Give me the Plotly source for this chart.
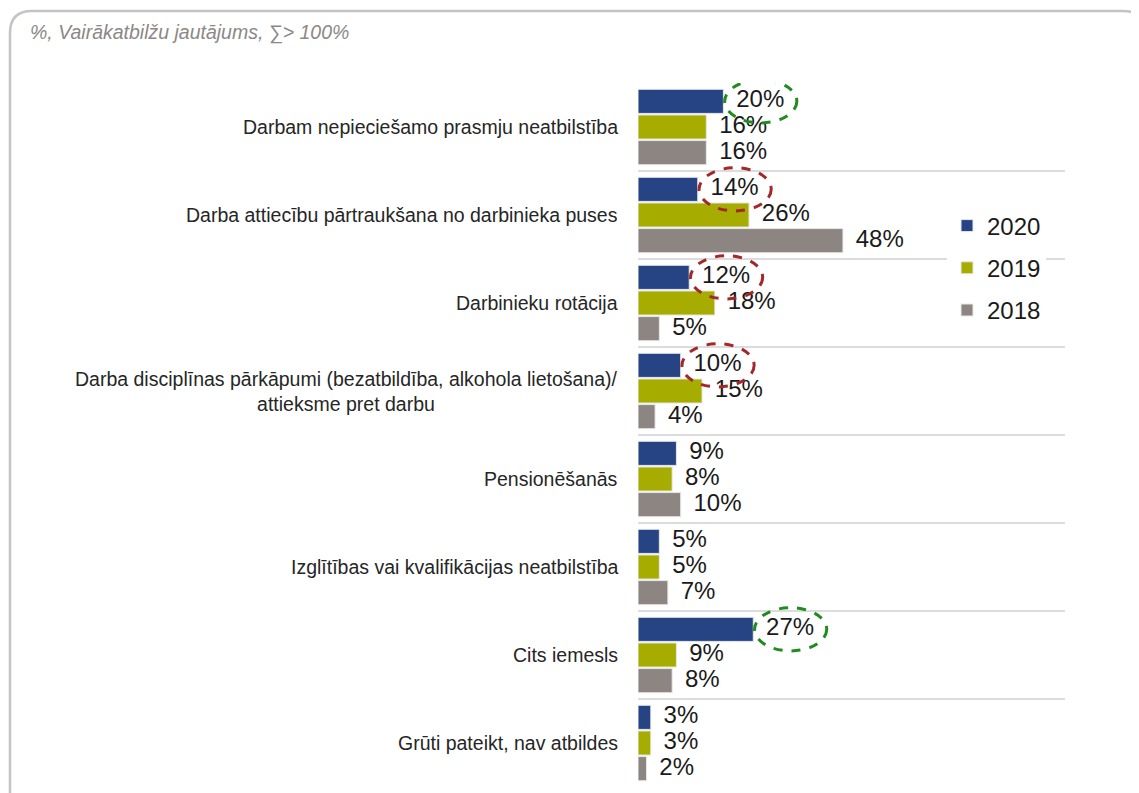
import plotly.graph_objects as go

categories = [
    'Darbam nepieciešamo prasmju neatbilstība',
    'Darba attiecību pārtraukšana no darbinieka puses',
    'Darbinieku rotācija',
    'Darba disciplīnas pārkāpumi (bezatbildība, alkohola lietošana)/<br>attieksme pret darbu',
    'Pensionēšanās',
    'Izglītības vai kvalifikācijas neatbilstība',
    'Cits iemesls',
    'Grūti pateikt, nav atbildes',
]
years = ['2020', '2019', '2018']
values_2020 = [20, 14, 12, 10, 9, 5, 27, 3]
values_2019 = [16, 26, 18, 15, 8, 5, 9, 3]
values_2018 = [16, 48, 5, 4, 10, 7, 8, 2]
colors = ['#264484', '#a6ad00', '#8c8581']

# highlighted 2020 labels: category index -> ring colour
green_rings = [0, 6]
red_rings = [1, 2, 3]

FONT = 'Arial, Liberation Sans, sans-serif'
BODY = 8  # default page margin around the plot div
W, H = 1139 - BODY, 793 - BODY
# plot area in page pixels: x 638..1065, y 83..787
L, R, T, B = 638 - BODY, 1139 - 1065, 83 - BODY, 793 - 787
PW, PH = W - L - R, H - T - B

BARGAP = 0.125
slot = (1 - BARGAP) / 3


def pg(x, y):
    # page pixels -> paper coords
    fx, fy = x - BODY, y - BODY
    return (fx - L) / PW, (H - B - fy) / PH


fig = go.Figure()
series = [values_2020, values_2019, values_2018]
pos = list(range(len(categories)))

for k, (yr, vals, col) in enumerate(zip(years, series, colors)):
    fig.add_trace(go.Bar(
        y=pos, x=vals, orientation='h', name=yr,
        marker=dict(color=col, line=dict(color='#e8e8e8', width=1)),
        legendgroup=yr, hoverinfo='x'))

for k, vals in enumerate(series):
    off = (k - 1) * slot
    fig.add_trace(go.Scatter(
        y=[p + off for p in pos], x=[v + 3 for v in vals],
        mode='text', text=[f'{v}%' for v in vals],
        textposition='middle right',
        textfont=dict(family=FONT, size=24, color='#1a1a1a'),
        showlegend=False, hoverinfo='skip'))

# dashed rings around the 2020 labels
off20 = -slot
for idx, col in [(i, '#1f8c1f') for i in green_rings] + [(i, '#a3282b') for i in red_rings]:
    v = values_2020[idx]
    fig.add_shape(type='circle', xref='x', yref='y',
                  x0=v + 0.3, x1=v + 17.2,
                  y0=idx + off20 - 0.245, y1=idx + off20 + 0.245,
                  line=dict(color=col, width=3, dash='dash'))

# category labels (centred multi-line like the original)
for i, c in enumerate(categories):
    fig.add_annotation(x=pg(620, 0)[0], xref='paper', y=i, yref='y',
                       text=c, showarrow=False, xanchor='right', align='center',
                       font=dict(family=FONT, size=19.5, color='#262626'))

# rounded frame
x0, y0 = pg(10, 11)
x1, _ = pg(1145, 11)
_, yb = pg(10, 800)
rx = 22 / PW
ry = 22 / PH
path = (f'M {x0},{yb} L {x0},{y0 - ry} Q {x0},{y0} {x0 + rx},{y0} '
        f'L {x1 - rx},{y0} Q {x1},{y0} {x1},{y0 - ry} L {x1},{yb}')
fig.add_shape(type='path', xref='paper', yref='paper', path=path,
              line=dict(color='#c4c4c4', width=2.5), layer='below')

fig.update_layout(
    width=W, height=H,
    margin=dict(l=L, r=R, t=T, b=B),
    paper_bgcolor='white', plot_bgcolor='white',
    barmode='group', bargap=BARGAP, bargroupgap=0.06,
    title=dict(text='%, Vairākatbilžu jautājums, ∑> 100%',
               x=(30 - BODY) / W, y=1 - (32 - BODY) / H,
               xanchor='left', yanchor='middle',
               font=dict(family=FONT, size=19.5, color='#8c8886', style='italic')),
    xaxis=dict(range=[0, 100], showgrid=False, zeroline=False,
               showticklabels=False, fixedrange=True),
    yaxis=dict(range=[7.5, -0.5], showgrid=False, zeroline=False,
               showticklabels=False, tickvals=[],
               minor=dict(tickvals=[p - 0.5 for p in pos] + [len(pos) - 0.5],
                          showgrid=True, gridcolor='#dcdcdc', gridwidth=1.5)),
    legend=dict(x=pg(947, 0)[0], y=pg(0, 268)[1], xanchor='left', yanchor='middle',
                bgcolor='white', traceorder='grouped', tracegroupgap=8,
                font=dict(family=FONT, size=24, color='#1a1a1a')),
    showlegend=True,
)

fig.write_html('out.html')
